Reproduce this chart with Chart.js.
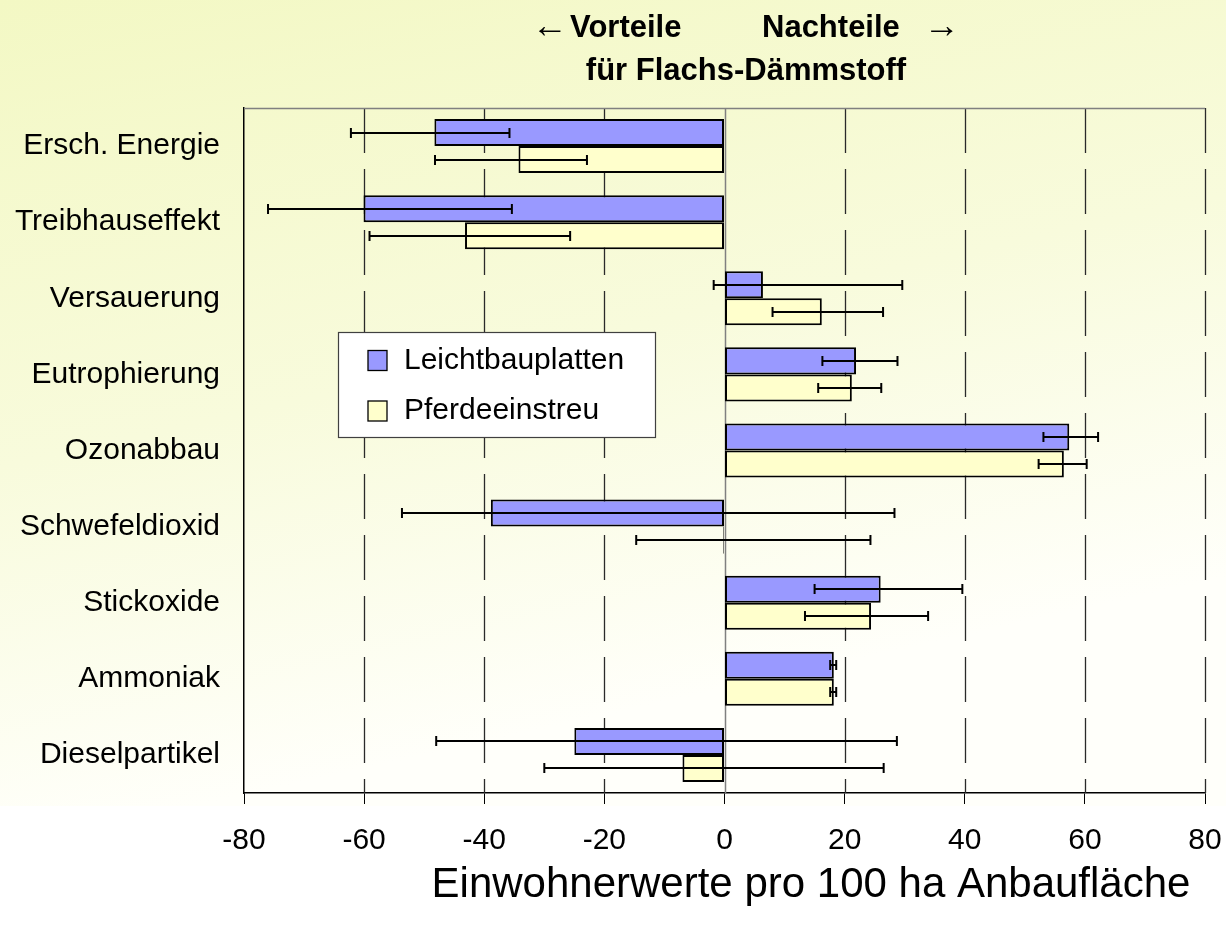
<!DOCTYPE html>
<html><head><meta charset="utf-8">
<script src="https://cdn.jsdelivr.net/npm/chart.js@4.4.0/dist/chart.umd.min.js"></script>
<style>html,body{margin:0;padding:0;background:#fff;}canvas{display:block}</style>
</head><body>
<canvas id="c" width="1226" height="932"></canvas>
<script>
const categories = ['Ersch. Energie','Treibhauseffekt','Versauerung','Eutrophierung','Ozonabbau','Schwefeldioxid','Stickoxide','Ammoniak','Dieselpartikel'];
const seriesNames = ['Leichtbauplatten','Pferdeeinstreu'];
const leicht     = [-48.3, -60.1,  6.4, 21.9, 57.4, -38.9, 26.0, 18.2, -25.0];
const leichtLow  = [-62.2, -76.0, -1.8, 16.3, 53.1, -53.7, 15.0, 17.6, -48.0];
const leichtHigh = [-35.8, -35.4, 29.6, 28.8, 62.2,  28.3, 39.6, 18.6,  28.7];
const pferde     = [-34.3, -43.2, 16.2, 21.2, 56.5,  -0.2, 24.4, 18.2,  -7.0];
const pferdeLow  = [-48.2, -59.1,  8.0, 15.6, 52.3, -14.7, 13.4, 17.6, -30.0];
const pferdeHigh = [-22.9, -25.7, 26.4, 26.1, 60.3,  24.3, 33.9, 18.6,  26.5];
const xTicks = [-80,-60,-40,-20,0,20,40,60,80];
const titleLine1 = ['←','Vorteile','Nachteile','→'];
const titleLine2 = 'für Flachs-Dämmstoff';
const xTitle = 'Einwohnerwerte pro 100 ha Anbaufläche';

const FONT = "'Liberation Sans', Arial, sans-serif";
const errLow = [leichtLow, pferdeLow];
const errHigh = [leichtHigh, pferdeHigh];

const bgPlugin = {
  id:'bg',
  beforeDraw(chart){
    const ctx = chart.ctx;
    ctx.save();
    ctx.fillStyle = '#ffffff';
    ctx.fillRect(0,0,chart.width,chart.height);
    const g = ctx.createLinearGradient(0,0,180,810);
    g.addColorStop(0,'#f3f8c4');
    g.addColorStop(0.55,'#f8fbdc');
    g.addColorStop(1,'#fffffa');
    ctx.fillStyle = g;
    ctx.fillRect(0,0,chart.width,806);
    ctx.restore();
  }
};

const gridPlugin = {
  id:'gridlines',
  beforeDatasetsDraw(chart){
    const {ctx, chartArea:a, scales:{x}} = chart;
    ctx.save();
    xTicks.forEach(v=>{
      if (v === -80) return;
      const px = Math.round(x.getPixelForValue(v)) + 0.5;
      ctx.beginPath();
      if (v === 0){ ctx.setLineDash([]); ctx.strokeStyle='#808080'; ctx.lineWidth=1.5; }
      else { ctx.setLineDash([45,16]); ctx.strokeStyle='#2a2a2a'; ctx.lineWidth=1.3; }
      ctx.moveTo(px, a.top); ctx.lineTo(px, a.bottom); ctx.stroke();
    });
    ctx.setLineDash([]);
    ctx.strokeStyle='#808080'; ctx.lineWidth=1.5;
    ctx.beginPath(); ctx.moveTo(a.left, a.top+0.5); ctx.lineTo(a.right, a.top+0.5); ctx.stroke();
    ctx.restore();
  }
};

const errPlugin = {
  id:'errbars',
  afterDatasetsDraw(chart){
    const {ctx, scales:{x}} = chart;
    ctx.save();
    ctx.strokeStyle='#000'; ctx.lineWidth=2;
    chart.data.datasets.forEach((ds,i)=>{
      const meta = chart.getDatasetMeta(i);
      meta.data.forEach((el,j)=>{
        const y = Math.round(el.y);
        const x1 = x.getPixelForValue(errLow[i][j]);
        const x2 = x.getPixelForValue(errHigh[i][j]);
        ctx.beginPath();
        ctx.moveTo(x1,y); ctx.lineTo(x2,y);
        ctx.moveTo(x1,y-5); ctx.lineTo(x1,y+5);
        ctx.moveTo(x2,y-5); ctx.lineTo(x2,y+5);
        ctx.stroke();
      });
    });
    ctx.restore();
  }
};

const textPlugin = {
  id:'texts',
  afterDraw(chart){
    const ctx = chart.ctx;
    ctx.save();
    ctx.fillStyle='#000';
    ctx.textBaseline='middle';
    ctx.font = "36px " + FONT; ctx.textAlign='center';
    ctx.fillText(titleLine1[0], 550, 27);
    ctx.fillText(titleLine1[3], 942, 27);
    ctx.font = "bold 31px " + FONT; ctx.textAlign='left';
    ctx.fillText(titleLine1[1], 570, 28);
    ctx.fillText(titleLine1[2], 762, 28);
    ctx.textAlign='center';
    ctx.fillText(titleLine2, 746, 71);
    ctx.font = "42px " + FONT;
    ctx.fillText(xTitle, 811, 885);
    // legend
    ctx.fillStyle='#ffffff';
    ctx.fillRect(338,332,317,105);
    ctx.strokeStyle='#404040'; ctx.lineWidth=1.2;
    ctx.strokeRect(338.5,332.5,317,105);
    const ys = [360.5, 411];
    chart.data.datasets.forEach((ds,i)=>{
      ctx.fillStyle = ds.backgroundColor;
      ctx.fillRect(368, ys[i]-10, 19, 20);
      ctx.strokeStyle='#000'; ctx.lineWidth=1.3;
      ctx.strokeRect(368, ys[i]-10, 19, 20);
      ctx.fillStyle='#000';
      ctx.font = "30px " + FONT; ctx.textAlign='left';
      ctx.fillText(ds.label, 404, ys[i]);
    });
    ctx.restore();
  }
};

new Chart(document.getElementById('c'), {
  type:'bar',
  data:{
    labels: categories,
    datasets:[
      {label:seriesNames[0], data:leicht, backgroundColor:'#9999ff', borderColor:'#000', borderWidth:2, borderSkipped:false},
      {label:seriesNames[1], data:pferde, backgroundColor:'#ffffcc', borderColor:'#000', borderWidth:2, borderSkipped:false}
    ]
  },
  options:{
    responsive:false, devicePixelRatio:1, animation:false,
    indexAxis:'y',
    layout:{padding:{top:108,right:21,left:0,bottom:0}},
    plugins:{legend:{display:false}, title:{display:false}, tooltip:{enabled:false}},
    datasets:{bar:{categoryPercentage:0.71, barPercentage:1.0}},
    scales:{
      x:{type:'linear', min:-80, max:80,
         afterBuildTicks(s){ s.ticks = xTicks.map(v=>({value:v})); },
         ticks:{font:{family:FONT,size:30}, color:'#000', padding:19, maxRotation:0, autoSkip:false},
         grid:{drawOnChartArea:false, drawTicks:true, tickLength:11, tickColor:'#000', tickWidth:1},
         border:{color:'#000', width:1.5},
         afterFit(s){ s.height = 139; s.paddingRight = 0; s.paddingLeft = 0; }},
      y:{ticks:{font:{family:FONT,size:30}, color:'#000', padding:24, autoSkip:false},
         grid:{display:false, drawTicks:false},
         border:{display:true, color:'#000', width:1.5},
         afterFit(s){ s.width = 244; s.paddingTop = 0; s.paddingBottom = 0; }}
    }
  },
  plugins:[bgPlugin, gridPlugin, errPlugin, textPlugin]
});
</script>
</body></html>
